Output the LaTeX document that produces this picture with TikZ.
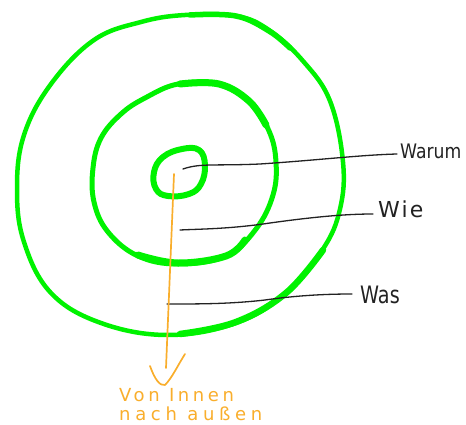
\documentclass[tikz,border=0pt]{standalone}
\usepackage{fontspec}
\newfontfamily\handfont{DejaVu Sans}
\newfontfamily\handnarrow[LetterSpace=10]{DejaVu Sans}
\newfontfamily\handwide[LetterSpace=20]{DejaVu Sans}
\newfontfamily\handwider[LetterSpace=26]{DejaVu Sans}
\definecolor{ringgreen}{HTML}{00F200}
\definecolor{arroworange}{HTML}{F9AE2C}
\definecolor{inkblack}{HTML}{222222}
\tikzset{
  ring/.style={draw=ringgreen, line width=4.5pt, line cap=round, line join=round},
  thickring/.style={draw=ringgreen, line width=7pt, line cap=round},
  leader/.style={draw=inkblack, line width=1.3pt, line cap=round},
  orangeline/.style={draw=arroworange, line width=1.7pt, line cap=round, line join=round},
  labeltext/.style={anchor=base west, inner sep=0pt, text=inkblack},
  notetext/.style={anchor=base west, inner sep=0pt, text=arroworange},
}
\begin{document}
\begin{tikzpicture}[x=1pt,y=-1pt]
\useasboundingbox (0,0) rectangle (466,425);
% outer ring
\draw[ring] plot[smooth cycle, tension=0.65] coordinates {(185,15) (236,16) (269,30) (303,61) (330,101) (343,162) (340,209) (323,249) (286,293) (236,323) (168,335) (101,323) (51,293) (24,242) (17,189) (24,135) (51,84) (94,40) (141,22)};
\draw[ringgreen, line width=6.5pt, line cap=round] plot[smooth, tension=0.65] coordinates {(323,250) (286,293) (236,322) (180,334)};
\draw[ringgreen, line width=5.5pt, line cap=round] plot[smooth, tension=0.65] coordinates {(190,15) (236,16) (269,31) (290,48)};
% middle ring
\draw[ring, line width=5pt] plot[smooth cycle, tension=0.65] coordinates {(178,84) (219,84) (249,101) (269,131) (276,162) (273,195) (256,229) (226,256) (178,264) (138,256) (108,232) (94,202) (93,168) (101,138) (121,114) (145,98)};
\draw[thickring] plot[smooth, tension=0.65] coordinates {(180,84) (219,84) (249,101) (266,125)};
\draw[thickring] plot[smooth, tension=0.65] coordinates {(245,240) (226,256) (178,263) (138,255)};
% inner ring
\draw[ring, line width=6pt] plot[smooth cycle, tension=0.7] coordinates {(182,149) (199,150) (205,165) (201,184) (189,194) (168,196) (156,189) (154,172) (163,157)};
% labels
\node[labeltext, font=\handfont\fontsize{20}{24}\selectfont] (warum) at (400,159) {\scalebox{0.86}[1]{Warum}};
\node[labeltext, font=\handnarrow\fontsize{22}{26}\selectfont] (wie) at (378,218) {Wie};
\node[labeltext, font=\handfont\fontsize{24}{28}\selectfont] (was) at (360,303) {\scalebox{0.8}[1]{Was}};
% leader lines
\coordinate (pwarum) at (183,169);
\coordinate (pwie) at (180,230);
\coordinate (pwas) at (167,304);
\coordinate (ewarum) at (397,154);
\coordinate (ewie) at (373,214);
\coordinate (ewas) at (352,294);
\draw[leader] (pwarum) .. controls (200,163) and (215,166) .. (260,164) .. controls (320,160) and (360,155) .. (ewarum);
\draw[leader] (pwie) .. controls (200,229) and (230,229) .. (270,223) .. controls (320,216) and (350,214) .. (ewie);
\draw[leader] (pwas) .. controls (200,304) and (230,304) .. (265,300) .. controls (300,295) and (330,294) .. (ewas);
% orange arrow
\coordinate (ostart) at (174,174);
\coordinate (oend) at (166,368);
\draw[orangeline] (ostart) -- (oend);
\draw[orangeline] (150,366) .. controls (155,380) and (160,386) .. (165,385) .. controls (172,378) and (178,365) .. (185,354);
\node[notetext, font=\handwide\fontsize{18}{21}\selectfont] (note1) at (119,401) {Von Innen};
\node[notetext, font=\handwider\fontsize{18}{21}\selectfont] (note2) at (119,420) {nach außen};
\end{tikzpicture}
\end{document}
